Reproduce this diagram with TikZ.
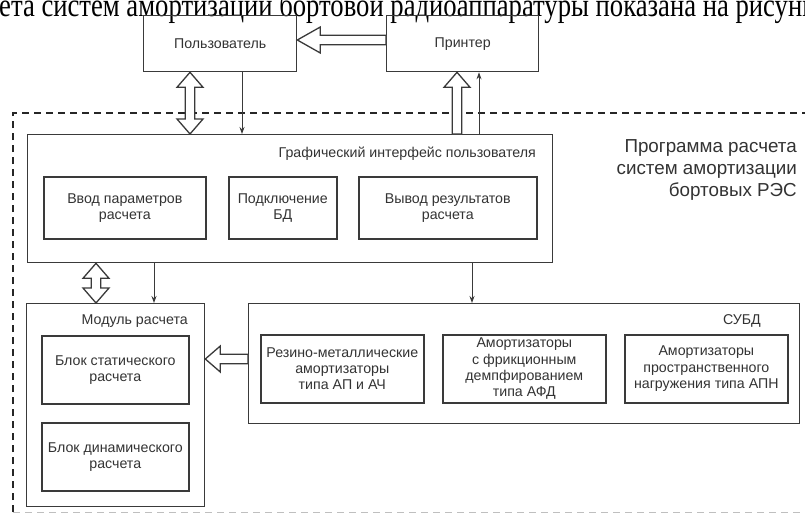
\documentclass[tikz,border=0pt]{standalone}
\usepackage{fontspec}
\setmainfont{Liberation Sans}
\newfontfamily\bodyserif{Liberation Serif}
\usetikzlibrary{calc,arrows.meta}

\definecolor{ink}{HTML}{333333}
\definecolor{edge}{HTML}{3A3A3A}

% half widths of the hollow arrows
\def\SH{4.8pt}
\def\HH{13pt}

% hollow block arrow from #2 to the tip #3, head length #1
\newcommand{\hollowone}[3][15pt]{%
  \coordinate (hb) at ($(#3)!#1!(#2)$);
  \draw[blockarrow] ($(#2)!\SH!90:(#3)$) -- ($(hb)!\SH!-90:(#2)$)
    -- ($(hb)!\HH!-90:(#2)$) -- (#3) -- ($(hb)!\HH!90:(#2)$)
    -- ($(hb)!\SH!90:(#2)$) -- ($(#2)!\SH!-90:(#3)$) -- cycle;}

% hollow block arrow with heads at both ends #2 and #3
\newcommand{\hollowtwo}[3][15pt]{%
  \coordinate (ha) at ($(#2)!#1!(#3)$);
  \coordinate (hb) at ($(#3)!#1!(#2)$);
  \draw[blockarrow] (#2) -- ($(ha)!\HH!-90:(#3)$) -- ($(ha)!\SH!-90:(#3)$)
    -- ($(hb)!\SH!90:(#2)$) -- ($(hb)!\HH!90:(#2)$) -- (#3)
    -- ($(hb)!\HH!-90:(#2)$) -- ($(hb)!\SH!-90:(#2)$)
    -- ($(ha)!\SH!90:(#3)$) -- ($(ha)!\HH!90:(#3)$) -- cycle;}

\tikzset{
  boxfont/.style={font=\fontsize{14.2}{16.3}\selectfont},
  outerbox/.style={draw=edge, line width=1.3pt, inner sep=0pt,
    anchor=north west, text=ink, boxfont},
  innerbox/.style={draw=edge, line width=1.6pt, inner sep=0pt,
    anchor=north west, text=ink, align=center, boxfont},
  caption/.style={text=ink, inner sep=0pt, boxfont},
  blockarrow/.style={draw=edge, fill=white, line width=1.3pt, line join=miter},
  thinarrow/.style={draw=edge, line width=1pt,
    -{Stealth[length=7pt,width=5pt]}},
  frame/.style={draw=black!85, line width=1.2pt, dash pattern=on 7pt off 5pt},
}

\begin{document}
\begin{tikzpicture}[x=1pt,y=-1pt]
\useasboundingbox (0,0) rectangle (805,514);
\fill[white] (0,0) rectangle (805,514);

\begin{scope}
\clip (0,0) rectangle (805,514);
% running text line above the figure
\node[anchor=base west, inner sep=0pt, font=\bodyserif\fontsize{33}{33}\selectfont]
  (textline) at (-1,16.5)
  {\resizebox{816pt}{\height}{ета систем амортизации бортовой радиоаппаратуры показана на рисунк}};

% border of the program
\draw[frame] (13,512) -- (13,113) -- (830,113);
\draw[draw=black!25, line width=0.8pt, dash pattern=on 7pt off 5pt] (13,512.5) -- (830,512.5);
\end{scope}

\node[anchor=north east, align=right, inner sep=0pt, text=ink,
  font=\fontsize{18.8}{22.3}\selectfont] (prog) at (797,139)
  {Программа расчета\\систем амортизации\\бортовых РЭС};

% outer blocks
\node[outerbox, minimum width=153pt, minimum height=56pt] (user) at (143,15) {Пользователь};
\node[outerbox, minimum width=152pt, minimum height=56pt] (printer) at (386,15) {Принтер};
\node[outerbox, minimum width=525pt, minimum height=128pt] (gui) at (27,134) {};
\node[outerbox, minimum width=178pt, minimum height=203pt] (module) at (26,303) {};
\node[outerbox, minimum width=551pt, minimum height=120pt] (dbms) at (248,303) {};

\node[caption, anchor=east] (guititle) at (536,154) {Графический интерфейс пользователя};
\node[caption, anchor=east] (modtitle) at (188,321) {Модуль расчета};
\node[caption, anchor=east] (dbmstitle) at (761,321) {СУБД};

% inner blocks of the interface
\node[innerbox, minimum width=162pt, minimum height=62pt] (input) at (43,176) {Ввод параметров\\расчета};
\node[innerbox, minimum width=108pt, minimum height=62pt] (connect) at (228,176) {Подключение\\БД};
\node[innerbox, minimum width=178pt, minimum height=62pt] (output) at (358,176) {Вывод результатов\\расчета};

% inner blocks of the calculation module
\node[innerbox, minimum width=147pt, minimum height=68pt] (static) at (41,335) {Блок статического\\расчета};
\node[innerbox, minimum width=147pt, minimum height=68pt] (dynamic) at (41,422) {Блок динамического\\расчета};

% inner blocks of the database
\node[innerbox, minimum width=163pt, minimum height=68pt] (rubber) at (260,334) {Резино-металлические\\амортизаторы\\типа АП и АЧ};
\node[innerbox, minimum width=163pt, minimum height=68pt] (friction) at (442,334) {Амортизаторы\\с фрикционным\\демпфированием\\типа АФД};
\node[innerbox, minimum width=163pt, minimum height=68pt] (spatial) at (624,334) {Амортизаторы\\пространственного\\нагружения типа АПН};

% columns and rows of the connectors
\coordinate (xUG) at (190,0);
\coordinate (xUGt) at (242,0);
\coordinate (xGP) at (457,0);
\coordinate (xGPt) at (479,0);
\coordinate (xGM) at (96,0);
\coordinate (xGMt) at (154,0);
\coordinate (xGD) at (472,0);
\coordinate (yPU) at (0,40);
\coordinate (yDM) at (0,359);

\coordinate (pu1) at (printer.west |- yPU);
\coordinate (pu2) at (user.east |- yPU);
\coordinate (ug1) at (user.south -| xUG);
\coordinate (ug2) at (gui.north -| xUG);
\coordinate (gp1) at (gui.north -| xGP);
\coordinate (gp2) at (printer.south -| xGP);
\coordinate (gm1) at (gui.south -| xGM);
\coordinate (gm2) at (module.north -| xGM);
\coordinate (dm1) at (dbms.west |- yDM);
\coordinate (dm2) at (module.east |- yDM);

\hollowone[23pt]{pu1}{pu2}
\hollowtwo{ug1}{ug2}
\hollowone{gp1}{gp2}
\hollowtwo{gm1}{gm2}
\hollowone{dm1}{dm2}

\draw[thinarrow] (user.south -| xUGt) -- (gui.north -| xUGt);
\draw[thinarrow] (gui.north -| xGPt) -- (printer.south -| xGPt);
\draw[thinarrow] (gui.south -| xGMt) -- (module.north -| xGMt);
\draw[thinarrow] (gui.south -| xGD) -- (dbms.north -| xGD);
\end{tikzpicture}
\end{document}
